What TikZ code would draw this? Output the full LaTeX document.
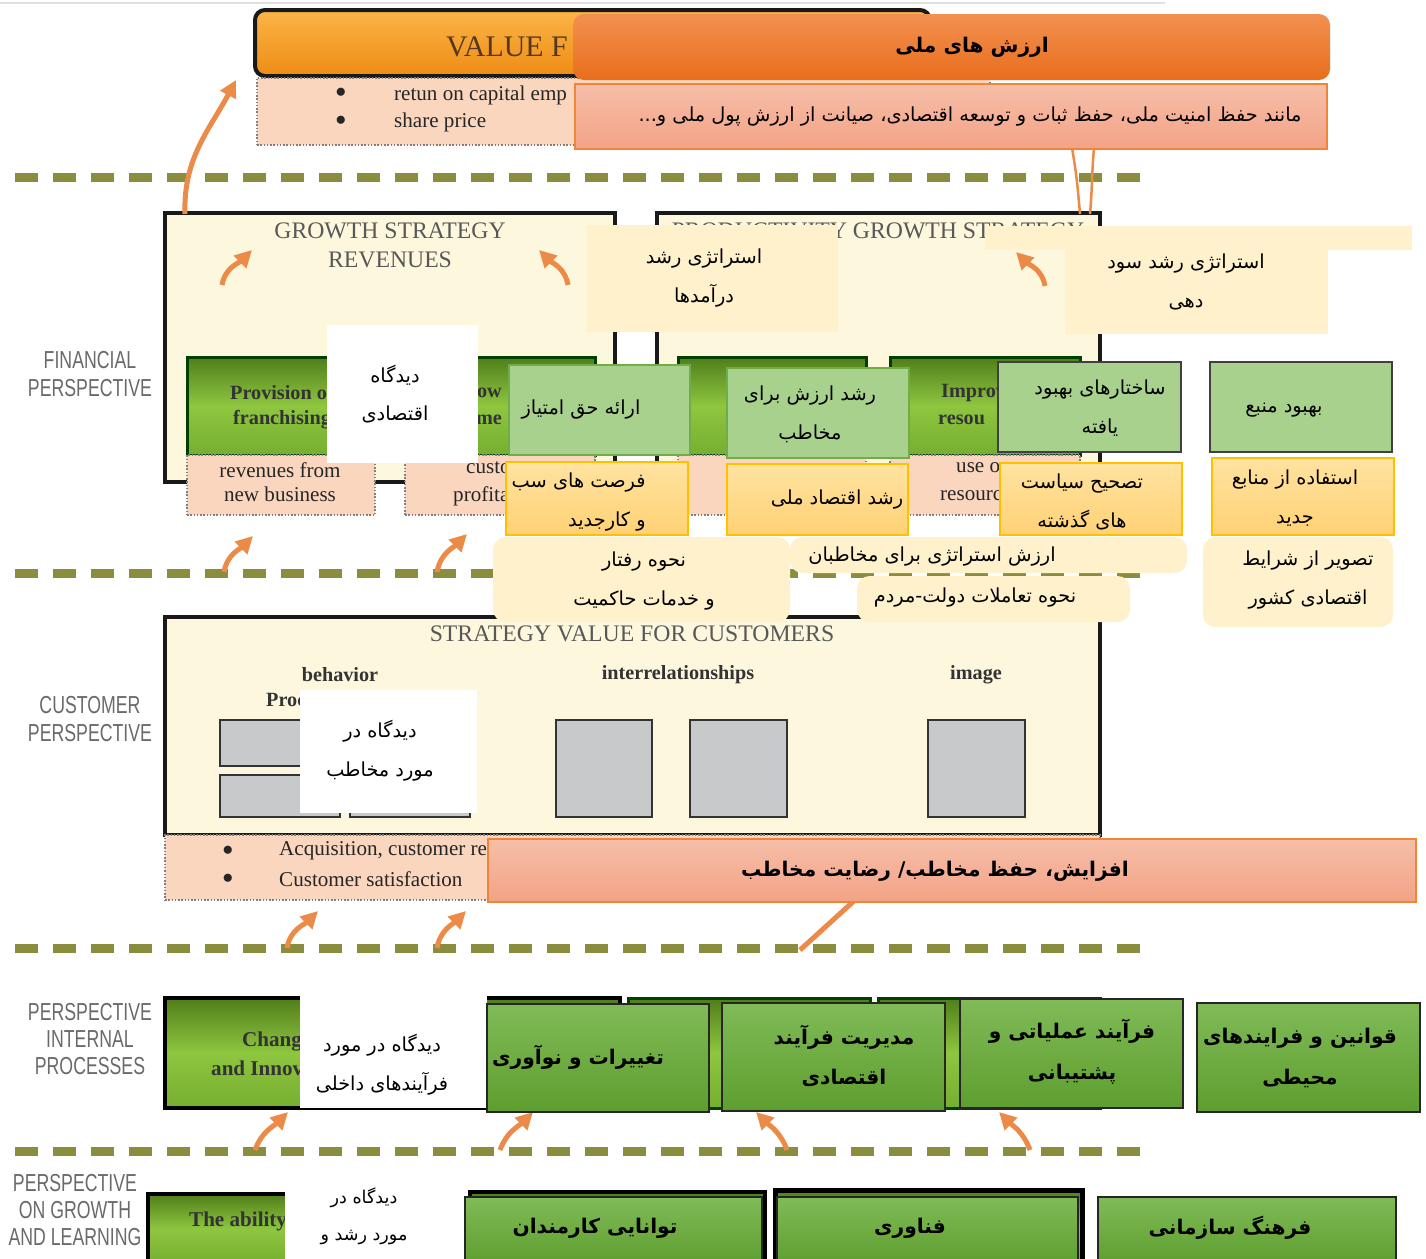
\documentclass[tikz,border=0pt]{standalone}
\usepackage{fontspec}
\setmainfont{Liberation Serif}
\newfontfamily\persian[Script=Arabic]{DejaVu Sans}
\newfontfamily\narrowsans[FakeStretch=0.72]{Liberation Sans}
\TeXXeTstate=1
\newcommand{\fa}[1]{\beginR #1\endR}
\usetikzlibrary{fit, arrows.meta, positioning}

\definecolor{dashgreen}{HTML}{8A8C3E}
\definecolor{arroworange}{HTML}{EC8A48}
\definecolor{labelgray}{HTML}{6A6A6A}
\definecolor{titlegray}{HTML}{585858}
\definecolor{creamen}{HTML}{FDF7DE}
\definecolor{peachen}{HTML}{FAD6BE}
\definecolor{greendark}{HTML}{507E1A}
\definecolor{greenlime}{HTML}{8EC640}
\definecolor{greenlow}{HTML}{76AE30}
\definecolor{blockgray}{HTML}{C8C9CB}
\definecolor{pcreamfill}{HTML}{FEF1CB}
\definecolor{plightgreen}{HTML}{A9D18E}
\definecolor{pgreenline}{HTML}{70AD47}
\definecolor{pyellowtop}{HTML}{FFE3A1}
\definecolor{pyellowbot}{HTML}{FFD175}
\definecolor{pyellowline}{HTML}{FFC000}
\definecolor{pgreentop}{HTML}{80BB57}
\definecolor{pgreenbot}{HTML}{5E9E2F}
\definecolor{ptitletop}{HTML}{F39050}
\definecolor{ptitlebot}{HTML}{E86E1C}
\definecolor{ppeachtop}{HTML}{F6BEA8}
\definecolor{ppeachbot}{HTML}{F3A386}
\definecolor{ppeachline}{HTML}{F08538}
\definecolor{valuetop}{HTML}{FBB546}
\definecolor{valuebot}{HTML}{EE8C15}

\tikzset{
  sepline/.style={draw=dashgreen, line width=0.18cm, dash pattern=on 0.46cm off 0.3cm},
  orarrow/.style={draw=arroworange, line width=0.1cm, -{Triangle[length=0.34cm, width=0.34cm]}},
  % english layer
  enframe/.style={fill=creamen, draw=black!90, line width=0.08cm, inner sep=0pt},
  engreen/.style={top color=greendark, bottom color=greenlow, middle color=greenlime, draw=black!75!green, line width=0.06cm, inner sep=0pt},
  enpeach/.style={fill=peachen, draw=gray, densely dotted, line width=0.03cm, inner sep=0pt},
  grayblock/.style={fill=blockgray, draw=black!80, line width=0.04cm, inner sep=0pt},
  entitle/.style={font=\fontsize{13.5}{16.5}\selectfont, text=titlegray, align=center},
  enbold/.style={font=\bfseries\fontsize{11.5}{14}\selectfont, text=black!80},
  entext/.style={font=\fontsize{12}{14}\selectfont, text=black!85},
  perlabel/.style={font=\narrowsans\fontsize{14}{15.5}\selectfont, text=labelgray, align=center},
  % persian layer
  ptext/.style={font=\persian\fontsize{11}{22}\selectfont, align=center, text=black, inner sep=0pt},
  pboldtext/.style={font=\persian\bfseries\fontsize{11.5}{23}\selectfont, align=center, text=black, inner sep=0pt},
  pcream/.style={fill=pcreamfill, inner sep=0pt},
  pround/.style={pcream, rounded corners=0.25cm},
  pwhite/.style={fill=white, inner sep=0pt},
  plight/.style={fill=plightgreen, draw=pgreenline, line width=0.03cm, inner sep=0pt},
  plightdark/.style={plight, draw=black!75},
  pyellow/.style={top color=pyellowtop, bottom color=pyellowbot, draw=pyellowline, line width=0.04cm, inner sep=0pt},
  pgreen/.style={top color=pgreentop, bottom color=pgreenbot, draw=black!85, line width=0.04cm, inner sep=0pt},
  ppeach/.style={top color=ppeachtop, bottom color=ppeachbot, draw=ppeachline, line width=0.04cm, inner sep=0pt},
  ptitle/.style={top color=ptitletop, bottom color=ptitlebot, rounded corners=0.22cm, inner sep=0pt}
}

\begin{document}
\begin{tikzpicture}[x=0.02cm, y=-0.02cm]
\useasboundingbox[fill=white] (0,0) rectangle (1426,1258);
\draw[black!12, line width=0.05cm] (0,3) -- (1165,3);

% perspective separators
\draw[sepline] (15,177) -- (1140,177);
\draw[sepline] (15,573) -- (1140,573);
\draw[sepline] (15,948) -- (1140,948);
\draw[sepline] (15,1151) -- (1140,1151);

% perspective labels
\node[perlabel] (finlabel) at (90,374) {FINANCIAL\\PERSPECTIVE};
\node[perlabel] (custlabel) at (90,719) {CUSTOMER\\PERSPECTIVE};
\node[perlabel] (intlabel) at (90,1039) {PERSPECTIVE\\INTERNAL\\PROCESSES};
\node[perlabel] (learnlabel) at (75,1210) {PERSPECTIVE\\ON GROWTH\\AND LEARNING};

% value for shareholders
\node[top color=valuetop, bottom color=valuebot, draw=black!90, line width=0.08cm, rounded corners=0.2cm, inner sep=0pt, fit={(255,10) (930,76)}] (valuebox) {};
\node[font=\fontsize{17}{19}\selectfont, text=brown!45!black, anchor=west] (valuetxt) at (440,47) {VALUE F};
\node[enpeach, fit={(257,78) (990,145)}] (valuemeas) {};
\node[entext] (vb1) at (341,93) {$\bullet$};
\node[entext] (vb2) at (341,121) {$\bullet$};
\node[entext, anchor=west] (vt1) at (388,95) {retun on capital emp};
\node[entext, anchor=west] (vt2) at (388,122) {share price};

% financial strategies
\node[enframe, fit={(165,213) (615,482)}] (revframe) {};
\node[enframe, fit={(657,213) (1100,482)}] (prodframe) {};
\node[entitle] (revtitle) at (390,245) {GROWTH STRATEGY\\REVENUES};
\node[entitle] (prodtitle) at (878,231) {PRODUCTIVITY GROWTH STRATEGY};
\node[engreen, fit={(187,357) (375,455)}] (franch) {};
\node[engreen, fit={(405,357) (595,455)}] (custinc) {};
\node[engreen, fit={(678,357) (866,455)}] (costst) {};
\node[engreen, fit={(890,357) (1080,455)}] (improve) {};
\node[enbold, anchor=west] at (224,393) {Provision o};
\node[enbold, anchor=west] at (227,420) {franchising};
\node[enbold, anchor=east] at (508,393) {ow};
\node[enbold, anchor=east] at (508,420) {me};
\node[enbold, anchor=west] at (935,393) {Improv};
\node[enbold, anchor=west] at (932,420) {resou};
\node[enpeach, fit={(187,455) (375,515)}] (newbiz) {};
\node[enpeach, fit={(405,455) (595,515)}] (profit) {};
\node[enpeach, fit={(678,455) (866,515)}] (costmeas) {};
\node[enpeach, fit={(890,455) (1080,515)}] (usemeas) {};
\node[entext, align=center] at (280,482) {revenues from\\new business};
\node[entext, anchor=west] at (460,468) {custo};
\node[entext, anchor=west] at (447,496) {profita};
\node[entext, anchor=west] at (950,468) {use o};
\node[entext, anchor=west] at (934,496) {resourc};

% customer
\node[enframe, fit={(165,617) (1100,835)}] (custframe) {};
\node[entitle] (custtitle) at (632,634) {STRATEGY VALUE FOR CUSTOMERS};
\node[enbold] at (340,675) {behavior};
\node[enbold, anchor=west] at (260,700) {Proc};
\node[enbold] at (678,675) {interrelationships};
\node[enbold] at (976,675) {image};
\node[grayblock, fit={(220,720) (340,766)}] (gb1) {};
\node[grayblock, fit={(350,720) (470,766)}] (gb2) {};
\node[grayblock, fit={(220,775) (340,817)}] (gb3) {};
\node[grayblock, fit={(350,775) (470,817)}] (gb4) {};
\node[grayblock, fit={(556,720) (652,817)}] (gb5) {};
\node[grayblock, fit={(690,720) (787,817)}] (gb6) {};
\node[grayblock, fit={(928,720) (1025,817)}] (gb7) {};
\node[enpeach, fit={(165,835) (1100,900)}] (custmeas) {};
\node[entext] at (228,851) {$\bullet$};
\node[entext] at (228,879) {$\bullet$};
\node[entext, anchor=west] at (273,851) {Acquisition, customer re};
\node[entext, anchor=west] at (273,879) {Customer satisfaction};

% internal processes and learning
\node[engreen, draw=black, line width=0.08cm, fit={(165,998) (620,1108)}] (change) {};
\node[engreen, fit={(628,998) (870,1108)}] (operate) {};
\node[engreen, fit={(878,998) (1100,1108)}] (regul) {};
\node[enbold, font=\bfseries\fontsize{12}{14}\selectfont, anchor=west] at (236,1041) {Chang};
\node[enbold, font=\bfseries\fontsize{12}{14}\selectfont, anchor=west] at (205,1068) {and Innov};
\node[engreen, draw=black, line width=0.08cm, fit={(148,1194) (460,1264)}] (ability) {};
\node[engreen, draw=black, line width=0.08cm, fit={(470,1192) (765,1264)}] (staff) {};
\node[engreen, draw=black, line width=0.1cm, fit={(775,1190) (1082,1264)}] (techno) {};
\node[enbold, font=\bfseries\fontsize{12}{14}\selectfont, anchor=west] at (183,1221) {The ability};

% arrows
\coordinate (a1s) at (185,214); \coordinate (a1e) at (236,80);
\coordinate (a2s) at (222,285); \coordinate (a2e) at (252,250);
\coordinate (a3s) at (568,285); \coordinate (a3e) at (539,250);
\coordinate (a4s) at (1045,286); \coordinate (a4e) at (1016,252);
\coordinate (a5s) at (224,572); \coordinate (a5e) at (253,536);
\coordinate (a6s) at (437,572); \coordinate (a6e) at (467,534);
\coordinate (a7s) at (287,948); \coordinate (a7e) at (318,911);
\coordinate (a8s) at (437,948); \coordinate (a8e) at (466,911);
\coordinate (a9s) at (255,1150); \coordinate (a9e) at (288,1112);
\coordinate (a10s) at (500,1150); \coordinate (a10e) at (533,1112);
\coordinate (a11s) at (787,1150); \coordinate (a11e) at (756,1112);
\coordinate (a12s) at (1030,1150); \coordinate (a12e) at (999,1112);
\draw[orarrow] (a1s) to[out=92, in=-118] (a1e);
\draw[orarrow] (a2s) to[out=80, in=-135] (a2e);
\draw[orarrow] (a3s) to[out=100, in=-45] (a3e);
\draw[orarrow] (a4s) to[out=100, in=-45] (a4e);
\draw[orarrow] (a5s) to[out=80, in=-135] (a5e);
\draw[orarrow] (a6s) to[out=80, in=-135] (a6e);
\draw[orarrow] (a7s) to[out=80, in=-135] (a7e);
\draw[orarrow] (a8s) to[out=80, in=-135] (a8e);
\draw[orarrow] (a9s) to[out=70, in=-135] (a9e);
\draw[orarrow] (a10s) to[out=70, in=-135] (a10e);
\draw[orarrow] (a11s) to[out=110, in=-45] (a11e);
\draw[orarrow] (a12s) to[out=110, in=-45] (a12e);
\coordinate (t1s) at (855,900); \coordinate (t1e) at (800,950);
\draw[arroworange, line width=0.1cm] (t1s) -- (t1e);
\coordinate (t2s) at (1072,148); \coordinate (t2e) at (1080,214);
\coordinate (t3s) at (1094,148); \coordinate (t3e) at (1090,214);
\draw[arroworange, line width=0.05cm] (t2s) to[out=-80, in=95] (t2e);
\draw[arroworange, line width=0.05cm] (t3s) to[out=-95, in=85] (t3e);

% persian overlay: boxes
\node[ptitle, fit={(573,14) (1330,80)}] (natval) {};
\node[ppeach, fit={(575,84) (1327,149)}] (natvalex) {};
\node[pcream, fit={(587,225) (838,332)}] (revgrowth) {};
\node[pcream, fit={(985,226) (1412,250)}] (profstrip) {};
\node[pcream, fit={(1065,226) (1328,334)}] (profgrowth) {};
\node[pwhite, fit={(327,325) (478,463)}] (econview) {};
\node[plight, fit={(509,365) (690,455)}] (franchfa) {};
\node[plight, fit={(727,368) (909,458)}] (valgrow) {};
\node[plightdark, fit={(998,362) (1181,452)}] (struct) {};
\node[plightdark, fit={(1210,362) (1392,452)}] (resimp) {};
\node[pyellow, fit={(506,462) (688,535)}] (bizopp) {};
\node[pyellow, fit={(727,464) (908,535)}] (natecon) {};
\node[pyellow, fit={(1000,463) (1182,535)}] (policy) {};
\node[pyellow, fit={(1212,458) (1394,535)}] (newres) {};
\node[pround, fit={(790,537) (1187,573)}] (stratval) {};
\node[pround, fit={(493,537) (790,622)}] (behave) {};
\node[pround, fit={(857,576) (1130,622)}] (govpeople) {};
\node[pround, fit={(1203,537) (1393,627)}] (image) {};
\node[pwhite, fit={(300,690) (477,813)}] (custview) {};
\node[ppeach, fit={(488,839) (1416,902)}] (retain) {};
\node[pwhite, fit={(300,996) (487,1108)}] (procview) {};
\node[pgreen, fit={(487,1004) (709,1112)}] (innov) {};
\node[pgreen, fit={(722,1003) (945,1111)}] (econproc) {};
\node[pgreen, fit={(960,999) (1183,1108)}] (support) {};
\node[pgreen, fit={(1197,1003) (1420,1112)}] (envlaw) {};
\node[pwhite, fit={(285,1180) (465,1262)}] (learnview) {};
\node[pgreen, fit={(465,1197) (762,1264)}] (staffability) {};
\node[pgreen, fit={(777,1197) (1078,1264)}] (technology) {};
\node[pgreen, fit={(1098,1197) (1396,1264)}] (culture) {};

% persian overlay: texts
\node[pboldtext] (natvaltxt) at (972,47) {\fa{ارزش های ملی}};
\node[ptext] (natvalextxt) at (970,117) {\fa{مانند حفظ امنیت ملی، حفظ ثبات و توسعه اقتصادی، صیانت از ارزش پول ملی و...}};
\node[ptext] (revgrowthtxt) at (704,278) {\fa{استراتژی رشد}\\\fa{درآمدها}};
\node[ptext] (profgrowthtxt) at (1186,282) {\fa{استراتژی رشد سود}\\\fa{دهی}};
\node[ptext] (econviewtxt) at (395,394) {\fa{دیدگاه}\\\fa{اقتصادی}};
\node[ptext] (franchfatxt) at (581,410) {\fa{ارائه حق امتیاز}};
\node[ptext] (valgrowtxt) at (810,414) {\fa{رشد ارزش برای}\\\fa{مخاطب}};
\node[ptext] (structtxt) at (1100,408) {\fa{ساختارهای بهبود}\\\fa{یافته}};
\node[ptext] (resimptxt) at (1284,410) {\fa{بهبود منبع}};
\node[ptext, align=right, anchor=east] (bizopptxt) at (646,502) {\fa{فرصت های سب}\\\fa{و کارجدید}};
\node[ptext] (natecontxt) at (837,500) {\fa{رشد اقتصاد ملی}};
\node[ptext] (policytxt) at (1082,502) {\fa{تصحیح سیاست}\\\fa{های گذشته}};
\node[ptext] (newrestxt) at (1295,498) {\fa{استفاده از منابع}\\\fa{جدید}};
\node[ptext] (stratvaltxt) at (932,557) {\fa{ارزش استراتژی برای مخاطبان}};
\node[ptext] (behavetxt) at (644,581) {\fa{نحوه رفتار}\\\fa{و خدمات حاکمیت}};
\node[ptext] (govpeopletxt) at (975,598) {\fa{نحوه تعاملات دولت-مردم}};
\node[ptext] (imagetxt) at (1308,580) {\fa{تصویر از شرایط}\\\fa{اقتصادی کشور}};
\node[ptext] (custviewtxt) at (380,751) {\fa{دیدگاه در}\\\fa{مورد مخاطب}};
\node[pboldtext] (retaintxt) at (935,871) {\fa{افزایش، حفظ مخاطب/ رضایت مخاطب}};
\node[ptext] (procviewtxt) at (382,1065) {\fa{دیدگاه در مورد}\\\fa{فرآیندهای داخلی}};
\node[pboldtext] (innovtxt) at (578,1057) {\fa{تغییرات و نوآوری}};
\node[pboldtext] (econproctxt) at (844,1056) {\fa{مدیریت فرآیند}\\\fa{اقتصادی}};
\node[pboldtext] (supporttxt) at (1072,1052) {\fa{فرآیند عملیاتی و}\\\fa{پشتیبانی}};
\node[pboldtext] (envlawtxt) at (1300,1058) {\fa{قوانین و فرایندهای}\\\fa{محیطی}};
\node[ptext, font=\persian\fontsize{10}{21}\selectfont] (learnviewtxt) at (364,1216) {\fa{دیدگاه در}\\\fa{مورد رشد و}};
\node[pboldtext] (staffabilitytxt) at (595,1228) {\fa{توانایی کارمندان}};
\node[pboldtext] (technologytxt) at (910,1228) {\fa{فناوری}};
\node[pboldtext] (culturetxt) at (1230,1228) {\fa{فرهنگ سازمانی}};
\end{tikzpicture}
\end{document}
